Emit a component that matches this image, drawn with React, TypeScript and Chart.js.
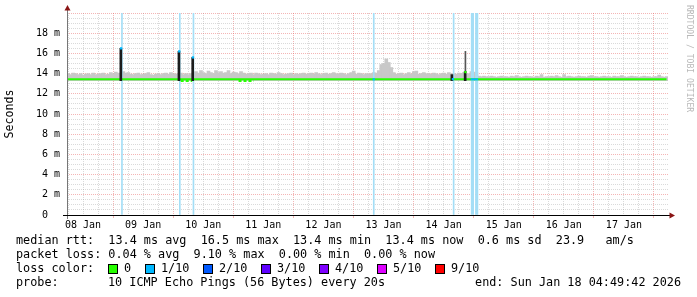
import React, { useEffect, useRef } from 'react';
import { Chart, registerables } from 'chart.js';

Chart.register(...registerables);

const W = 697;
const H = 297;

// ---- axis / tick data ----
const dayLabels = ['08 Jan', '09 Jan', '10 Jan', '11 Jan', '12 Jan', '13 Jan', '14 Jan', '15 Jan', '16 Jan', '17 Jan'];
const firstMidnightHour = 18.4; // hours from graph start to 09 Jan 00:00
const spanHours = 240;
const gridStepHours = 6;
const yMax = 20;
const yMajorStep = 2;
const yMinorStep = 0.5;

// ---- smoke (upper edge of the ping spread, ms), one value per hour ----
const smokeBottom = 13.3;
const smokeTop = [
  14.0, 13.9, 14.05, 14.0, 13.9, 14.0, 13.85, 13.95, 14.0, 13.9, 14.05, 13.9, 13.95, 14.0, 14.05, 13.9, 13.95, 14.1, 14.0, 14.15, 14.05, 14.0, 14.2, 14.05,
  14.1, 13.95, 13.9, 14.0, 14.05, 13.9, 13.95, 14.0, 14.1, 13.9, 13.85, 13.95, 14.0, 13.9, 14.0, 14.05, 13.95, 14.1, 14.0, 13.95, 14.0, 14.05, 13.9, 14.0,
  13.9, 14.0, 14.1, 14.2, 14.05, 14.3, 14.1, 14.0, 14.25, 14.1, 14.0, 14.3, 14.1, 14.2, 14.05, 14.1, 14.3, 14.0, 14.15, 14.1, 14.0, 14.2, 14.05, 13.95,
  14.0, 14.05, 13.9, 14.05, 14.0, 13.9, 13.95, 14.0, 13.9, 14.05, 14.0, 13.95, 14.1, 14.0, 13.9, 13.95, 14.0, 14.05, 13.9, 14.0, 13.95, 14.0, 14.05, 13.95,
  14.0, 14.05, 13.95, 14.1, 14.0, 13.9, 14.0, 14.05, 13.95, 14.0, 14.1, 14.0, 13.95, 14.05, 14.0, 13.9, 14.0, 14.1, 14.25, 13.95, 14.05, 14.0, 13.9, 14.0,
  13.95, 14.0, 14.1, 14.05, 14.3, 14.9, 15.0, 15.45, 15.1, 14.6, 14.1, 13.95, 14.0, 14.05, 13.9, 14.0, 14.1, 13.95, 14.2, 14.25, 13.95, 14.0, 14.1, 14.0,
  14.0, 13.95, 14.05, 14.0, 13.9, 14.0, 14.05, 13.95, 14.1, 14.0, 14.0, 13.95, 14.05, 14.0, 14.1, 13.95, 14.0, 14.2, 14.15, 14.1, 13.75, 13.7, 13.75, 13.7,
  13.7, 13.75, 13.7, 13.65, 13.7, 13.75, 13.7, 13.7, 13.65, 13.75, 13.7, 13.8, 13.7, 13.65, 13.7, 13.75, 13.7, 13.7, 13.65, 13.75, 13.7, 13.9, 13.65, 13.7,
  13.7, 13.75, 13.7, 13.8, 13.7, 13.65, 13.9, 13.7, 13.75, 13.7, 13.65, 13.7, 13.75, 13.7, 13.7, 13.65, 13.75, 13.8, 13.7, 13.7, 13.65, 13.7, 13.75, 13.7,
  13.7, 13.65, 13.75, 13.7, 13.7, 13.8, 13.7, 13.65, 13.7, 13.75, 13.7, 13.7, 13.65, 13.7, 13.75, 13.7, 13.7, 13.65, 13.7, 13.7, 13.85, 13.7, 13.65, 13.7,
];

// ---- median rtt line (ms) ----
const medianHours = [0, 12, 24, 36, 48, 60, 72, 84, 96, 108, 120, 132, 144, 156, 168, 180, 192, 204, 216, 228, 239.4];
const medianValues = [13.43, 13.43, 13.43, 13.43, 13.43, 13.43, 13.43, 13.43, 13.43, 13.43, 13.43, 13.43, 13.43, 13.43, 13.43, 13.43, 13.43, 13.43, 13.43, 13.43, 13.43];
// short lower median stretches
const dipStart = [45.4, 68.5];
const dipEnd = [50.0, 74.6];
const dipValue = [13.27, 13.27];

// ---- packet loss (1/10) markers ----
const lossHours = [21.95, 45.05, 50.5, 122.5, 154.4];
const lossWideHours = [161.9, 163.6];
const lossMedianSegStart = [161.2];
const lossMedianSegEnd = [164.2];
const lossMedianSegValue = [13.43];
const lossTipHours = [21.6, 44.8, 50.3, 122.5, 154.1];
const lossTipValues = [16.5, 16.2, 15.6, 13.43, 13.45];

// ---- dark spikes in the smoke ----
const spikeHours = [21.5, 44.7, 50.2, 153.7, 159.0];
const spikeLow = [13.3, 13.3, 13.3, 13.3, 13.3];
const spikeHigh = [16.5, 16.2, 15.6, 13.9, 14.2];
const spikeTailHours = [159.1];
const spikeTailLow = [14.2];
const spikeTailHigh = [16.2];
const greenTipHours = [159.1];
const greenTipValues = [14.15];

// ---- legend ----
const statLines = [
  'median rtt:  13.4 ms avg  16.5 ms max  13.4 ms min  13.4 ms now  0.6 ms sd  23.9   am/s',
  'packet loss: 0.04 % avg  9.10 % max  0.00 % min  0.00 % now',
];
const lossColorTitle = 'loss color:';
const lossLabels = ['0', '1/10', '2/10', '3/10', '4/10', '5/10', '9/10'];
const lossColors = ['#26ff00', '#00b8ff', '#0059ff', '#5e00ff', '#7e00ff', '#dd00ff', '#ff0000'];
const probeTitle = 'probe:';
const probeText = '10 ICMP Echo Pings (56 Bytes) every 20s';
const endText = 'end: Sun Jan 18 04:49:42 2026';
const watermark = 'RRDTOOL / TOBI OETIKER';
const yTitle = 'Seconds';

const MONO = '"DejaVu Sans Mono", monospace';
const MAJOR = 'rgba(230,90,90,0.45)';
const MINOR = 'rgba(150,150,150,0.35)';
const LEGEND_PX = 11.8;
const CHAR_W = 7.1;

const isMidnight = (h: number) => {
  const d = (((h - firstMidnightHour) % 24) + 24) % 24;
  return d < 0.01 || d > 23.99;
};

const decorPlugin = {
  id: 'decor',
  afterDraw(chart: any) {
    const { ctx, chartArea: a } = chart;
    ctx.save();
    // y axis
    ctx.lineWidth = 1;
    ctx.strokeStyle = '#777';
    ctx.beginPath();
    ctx.moveTo(a.left + 0.5, a.bottom + 4);
    ctx.lineTo(a.left + 0.5, a.top - 4);
    ctx.stroke();
    // x axis
    ctx.strokeStyle = '#000';
    ctx.beginPath();
    ctx.moveTo(a.left - 4, a.bottom + 0.5);
    ctx.lineTo(a.right + 3, a.bottom + 0.5);
    ctx.stroke();
    // arrows
    ctx.fillStyle = '#8a1414';
    ctx.beginPath();
    ctx.moveTo(a.left + 0.5, a.top - 8);
    ctx.lineTo(a.left - 2.5, a.top - 2.5);
    ctx.lineTo(a.left + 3.5, a.top - 2.5);
    ctx.closePath();
    ctx.fill();
    ctx.beginPath();
    ctx.moveTo(a.right + 7, a.bottom + 0.5);
    ctx.lineTo(a.right + 1.5, a.bottom - 2.5);
    ctx.lineTo(a.right + 1.5, a.bottom + 3.5);
    ctx.closePath();
    ctx.fill();

    // watermark
    ctx.save();
    ctx.translate(685, 5);
    ctx.rotate(Math.PI / 2);
    ctx.font = `8.1px ${MONO}`;
    ctx.fillStyle = '#b8b8b8';
    ctx.textAlign = 'left';
    ctx.textBaseline = 'bottom';
    ctx.fillText(watermark, 0, 0);
    ctx.restore();

    // legend text
    ctx.font = `${LEGEND_PX}px ${MONO}`;
    ctx.fillStyle = '#000';
    ctx.textBaseline = 'middle';
    ctx.textAlign = 'left';
    const rowY = [241, 255, 269, 283];
    ctx.fillText(statLines[0], 16, rowY[0]);
    ctx.fillText(statLines[1], 16, rowY[1]);
    ctx.fillText(lossColorTitle, 16, rowY[2]);
    let bx = 108;
    lossLabels.forEach((lab, i) => {
      ctx.fillStyle = lossColors[i];
      ctx.fillRect(bx, rowY[2] - 5, 10, 10);
      ctx.strokeStyle = '#000';
      ctx.lineWidth = 1;
      ctx.strokeRect(bx + 0.5, rowY[2] - 4.5, 9, 9);
      ctx.fillStyle = '#000';
      ctx.fillText(lab, bx + 16, rowY[2]);
      bx = Math.round(bx + 16 + lab.length * CHAR_W + 14);
    });
    ctx.fillText(probeTitle, 16, rowY[3]);
    ctx.fillText(probeText, 108, rowY[3]);
    ctx.textAlign = 'right';
    ctx.fillText(endText, 681, rowY[3]);
    ctx.restore();
  },
};

export default function App() {
  const ref = useRef<HTMLCanvasElement>(null);
  useEffect(() => {
    document.body.style.margin = '0';
    document.body.style.background = '#fff';
    const canvas = ref.current!;

    const smokeData = smokeTop.map((t, i) => ({ x: i + 0.5, y: [smokeBottom, t] }));
    const lossData = lossHours.map((h) => ({ x: h, y: [0, yMax] }));
    const lossWideData = lossWideHours.map((h) => ({ x: h, y: [0, yMax] }));
    const spikeData = spikeHours.map((h, i) => ({ x: h, y: [spikeLow[i], spikeHigh[i]] }));
    const tailData = spikeTailHours.map((h, i) => ({ x: h, y: [spikeTailLow[i], spikeTailHigh[i]] }));
    const medianData = medianHours.map((h, i) => ({ x: h, y: medianValues[i] }));
    const dipData: any[] = [];
    dipStart.forEach((s, i) => {
      dipData.push({ x: s, y: dipValue[i] }, { x: dipEnd[i], y: dipValue[i] }, { x: dipEnd[i] + 0.01, y: null });
    });
    const lossSegData: any[] = [];
    lossMedianSegStart.forEach((s, i) => {
      lossSegData.push({ x: s, y: lossMedianSegValue[i] }, { x: lossMedianSegEnd[i], y: lossMedianSegValue[i] }, { x: lossMedianSegEnd[i] + 0.01, y: null });
    });
    const tipData = lossTipHours.map((h, i) => ({ x: h, y: lossTipValues[i] }));
    const greenTipData = greenTipHours.map((h, i) => ({ x: h, y: greenTipValues[i] }));

    Chart.defaults.font.family = MONO;
    Chart.defaults.font.size = 10;
    Chart.defaults.color = '#000';

    const xTicks: number[] = [];
    for (let t = firstMidnightHour - 24; t <= spanHours + 0.001; t += gridStepHours) {
      if (t >= 0) xTicks.push(t);
    }
    const yTicks: number[] = [];
    for (let v = 0; v <= yMax + 0.001; v += yMinorStep) yTicks.push(v);

    const chart = new Chart(canvas, {
      type: 'line',
      data: {
        datasets: [
          { type: 'bar', data: smokeData as any, backgroundColor: '#c8c8c8', borderWidth: 0, barThickness: 3, grouped: false, order: 7 } as any,
          { type: 'bar', data: lossData as any, backgroundColor: '#a4def6', borderWidth: 0, barThickness: 1, grouped: false, order: 6 } as any,
          { type: 'bar', data: lossWideData as any, backgroundColor: '#a4def6', borderWidth: 0, barThickness: 2.5, grouped: false, order: 6 } as any,
          { type: 'line', data: medianData, borderColor: '#26ff00', borderWidth: 2, pointRadius: 0, order: 4 } as any,
          { type: 'line', data: dipData, borderColor: '#26ff00', borderWidth: 2, borderDash: [3, 2], pointRadius: 0, spanGaps: false, order: 4 } as any,
          { type: 'bar', data: spikeData as any, backgroundColor: '#1c1c1c', borderWidth: 0, barThickness: 2, grouped: false, order: 3 } as any,
          { type: 'bar', data: tailData as any, backgroundColor: '#555555', borderWidth: 0, barThickness: 1, grouped: false, order: 3 } as any,
          { type: 'line', data: lossSegData, borderColor: '#00b8ff', borderWidth: 2, pointRadius: 0, spanGaps: false, order: 1 } as any,
          { type: 'line', data: tipData, showLine: false, pointStyle: 'rect', pointRadius: 1.6, pointBorderWidth: 0, pointBackgroundColor: '#00b8ff', order: 0 } as any,
          { type: 'line', data: greenTipData, showLine: false, pointStyle: 'rect', pointRadius: 1.6, pointBorderWidth: 0, pointBackgroundColor: '#26ff00', order: 0 } as any,
        ],
      },
      options: {
        animation: false,
        responsive: false,
        devicePixelRatio: 1,
        events: [],
        layout: { padding: { left: 0, top: 13, right: 29, bottom: 0 } },
        plugins: { legend: { display: false }, tooltip: { enabled: false } },
        scales: {
          x: {
            type: 'linear',
            min: 0,
            max: spanHours,
            offset: false,
            afterBuildTicks: (s: any) => { s.ticks = xTicks.map((v) => ({ value: v })); },
            afterFit: (s: any) => { s.height = H - 215; },
            grid: {
              offset: false,
              color: (c: any) => (c.tick && isMidnight(c.tick.value) ? MAJOR : MINOR),
              lineWidth: 1,
              drawTicks: true,
              tickLength: 3,
              tickColor: (c: any) => (c.tick && isMidnight(c.tick.value) ? MAJOR : 'rgba(0,0,0,0)'),
              borderDash: [1, 1],
            } as any,
            border: { display: false, dash: [1, 1] },
            ticks: {
              autoSkip: false,
              maxRotation: 0,
              padding: 1,
              color: '#000',
              font: { family: MONO, size: 10 },
              callback: (v: any) => {
                const i = Math.round((v - (firstMidnightHour - 12)) / 24);
                const noon = firstMidnightHour - 12 + 24 * i;
                return Math.abs(v - noon) < 0.01 && i >= 0 && i < dayLabels.length ? dayLabels[i] : '';
              },
            },
          } as any,
          y: {
            type: 'linear',
            min: 0,
            max: yMax,
            afterBuildTicks: (s: any) => { s.ticks = yTicks.map((v) => ({ value: v })); },
            afterFit: (s: any) => { s.width = 67; },
            grid: {
              color: (c: any) => (c.tick && Math.abs(c.tick.value % yMajorStep) < 0.001 ? MAJOR : MINOR),
              lineWidth: 1,
              drawTicks: false,
              borderDash: [1, 1],
            } as any,
            border: { display: false, dash: [1, 1] },
            ticks: {
              autoSkip: false,
              padding: 7,
              color: '#000',
              font: { family: MONO, size: 10 },
              callback: (v: any) => {
                if (Math.abs(v % yMajorStep) > 0.001 || v >= yMax) return '';
                return v === 0 ? '0  ' : `${v} m`;
              },
            },
            title: {
              display: true,
              text: yTitle,
              color: '#000',
              font: { family: MONO, size: 11.6 },
              padding: { top: 3, bottom: 0 },
            },
          } as any,
        },
      },
      plugins: [decorPlugin],
    } as any);
    return () => chart.destroy();
  }, []);
  return <canvas ref={ref} width={W} height={H} style={{ display: 'block', width: W, height: H }} />;
}
